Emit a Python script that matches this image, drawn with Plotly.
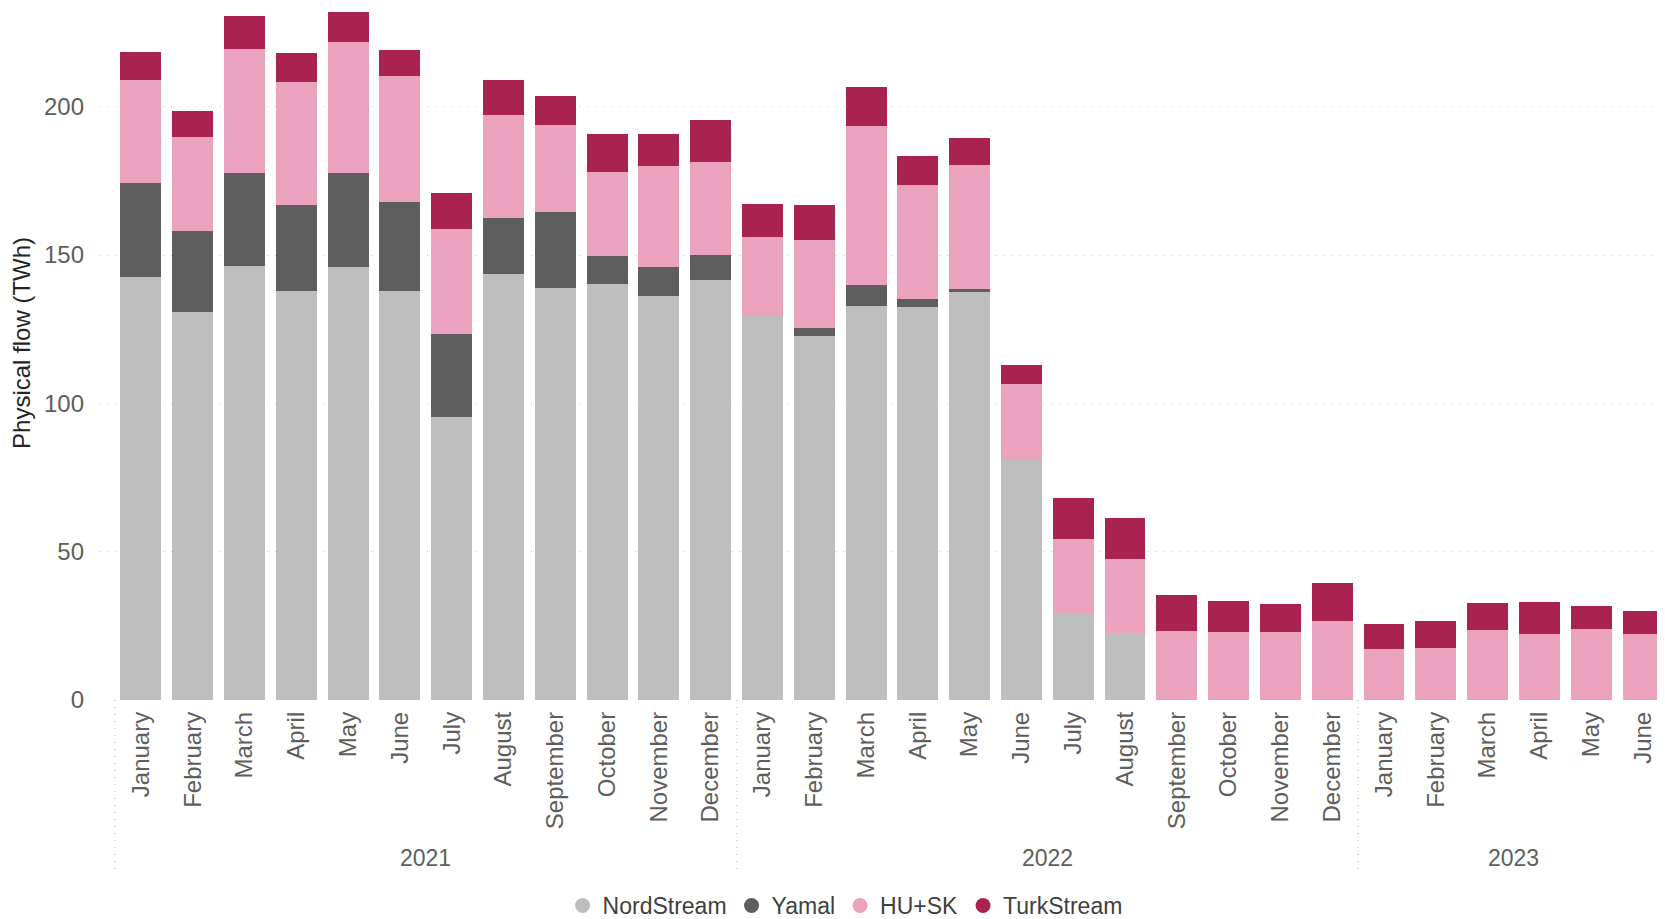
import plotly.graph_objects as go

# ---- data ----
years = ["2021"] * 12 + ["2022"] * 12 + ["2023"] * 6
months = (["January", "February", "March", "April", "May", "June", "July", "August",
           "September", "October", "November", "December"] * 2
          + ["January", "February", "March", "April", "May", "June"])
year_labels = ["2021", "2022", "2023"]

nordstream = [142.5, 130.9, 146.2, 137.8, 146.0, 137.8, 95.3, 143.7, 138.9, 140.1, 136.3, 141.7,
              129.6, 122.6, 132.8, 132.5, 137.7, 81.0, 29.1, 22.7, 0, 0, 0, 0,
              0, 0, 0, 0, 0, 0]
yamal = [31.7, 27.2, 31.5, 29.2, 31.8, 30.2, 28.0, 18.7, 25.6, 9.5, 9.7, 8.2,
         0, 2.9, 7.0, 2.8, 0.9, 0, 0, 0, 0, 0, 0, 0,
         0, 0, 0, 0, 0, 0]
hu_sk = [34.7, 31.7, 41.7, 41.3, 44.0, 42.5, 35.4, 34.8, 29.5, 28.4, 33.9, 31.4,
         26.5, 29.5, 53.7, 38.4, 41.7, 25.4, 25.2, 24.7, 23.4, 22.8, 23.0, 26.7,
         17.1, 17.4, 23.6, 22.1, 24.1, 22.1]
turkstream = [9.5, 8.9, 11.2, 9.9, 10.1, 8.8, 12.2, 11.8, 9.5, 12.7, 10.8, 14.3,
              11.2, 11.8, 13.1, 9.6, 9.2, 6.4, 13.7, 14.0, 12.1, 10.5, 9.3, 12.7,
              8.4, 9.3, 9.2, 11.1, 7.7, 7.9]

series = [("NordStream", nordstream, "#BEBEBE"),
          ("Yamal", yamal, "#5E5E5E"),
          ("HU+SK", hu_sk, "#EBA2BC"),
          ("TurkStream", turkstream, "#A82350")]

cats = [f"{m} {y}" for m, y in zip(months, years)]

FONT = "Arial, Liberation Sans, sans-serif"
GREY = "#605E5C"

fig = go.Figure()
for name, vals, col in series:
    fig.add_trace(go.Bar(x=cats, y=vals, name=name, marker_color=col,
                         marker_line_width=0, showlegend=False, hoverinfo="skip"))
# circle legend markers
for name, vals, col in series:
    fig.add_trace(go.Scatter(x=[None], y=[None], mode="markers", name=name,
                             marker=dict(symbol="circle", size=15, color=col)))

fig.update_layout(
    width=1665, height=919,
    margin=dict(l=91, r=0, t=0, b=227),
    barmode="stack", bargap=0.21,
    plot_bgcolor="white", paper_bgcolor="white",
    font=dict(family=FONT, size=24, color=GREY),
    showlegend=True,
    legend=dict(orientation="h", x=0.474, xanchor="center", y=-0.2977, yanchor="middle",
                font=dict(size=23, color="#404040"), itemwidth=30, traceorder="normal",
                tracegroupgap=0, itemclick=False),
)

fig.update_xaxes(
    type="category", categoryorder="array", categoryarray=cats,
    tickvals=cats, ticktext=months, tickangle=-90, automargin=False,
    range=[-0.81, 29.58], showgrid=False, showline=False, zeroline=False,
    tickfont=dict(size=24, color=GREY), ticks="", ticklabelstandoff=6,
)
fig.update_yaxes(
    range=[0, 233.3], tickvals=[0, 50, 100, 150, 200], automargin=False,
    showgrid=True, gridcolor="#CFCFCF", gridwidth=1.2, griddash="1px,7px",
    zeroline=False, showline=False, ticks="", ticklabelstandoff=14,
    tickfont=dict(size=24, color=GREY),
)

# y-axis title
fig.add_annotation(text="Physical flow (TWh)", xref="paper", yref="paper",
                   x=-0.0489, y=0.516, textangle=-90, showarrow=False,
                   font=dict(size=24, color="#252423"), xanchor="center", yanchor="middle")

# year group separators and labels
start = 0
for yl in year_labels:
    n = years.count(yl)
    fig.add_shape(type="line", xref="x", yref="paper", x0=start - 0.5, x1=start - 0.5,
                  y0=0, y1=-0.25, line=dict(color="#C8C8C8", width=1.5, dash="1px,6px"))
    fig.add_annotation(text=yl, xref="x", yref="paper", x=start + (n - 1) / 2, y=-0.2283,
                       showarrow=False, font=dict(size=23, color=GREY),
                       xanchor="center", yanchor="middle")
    start += n

fig.write_html("out.html", config={"displayModeBar": False})
